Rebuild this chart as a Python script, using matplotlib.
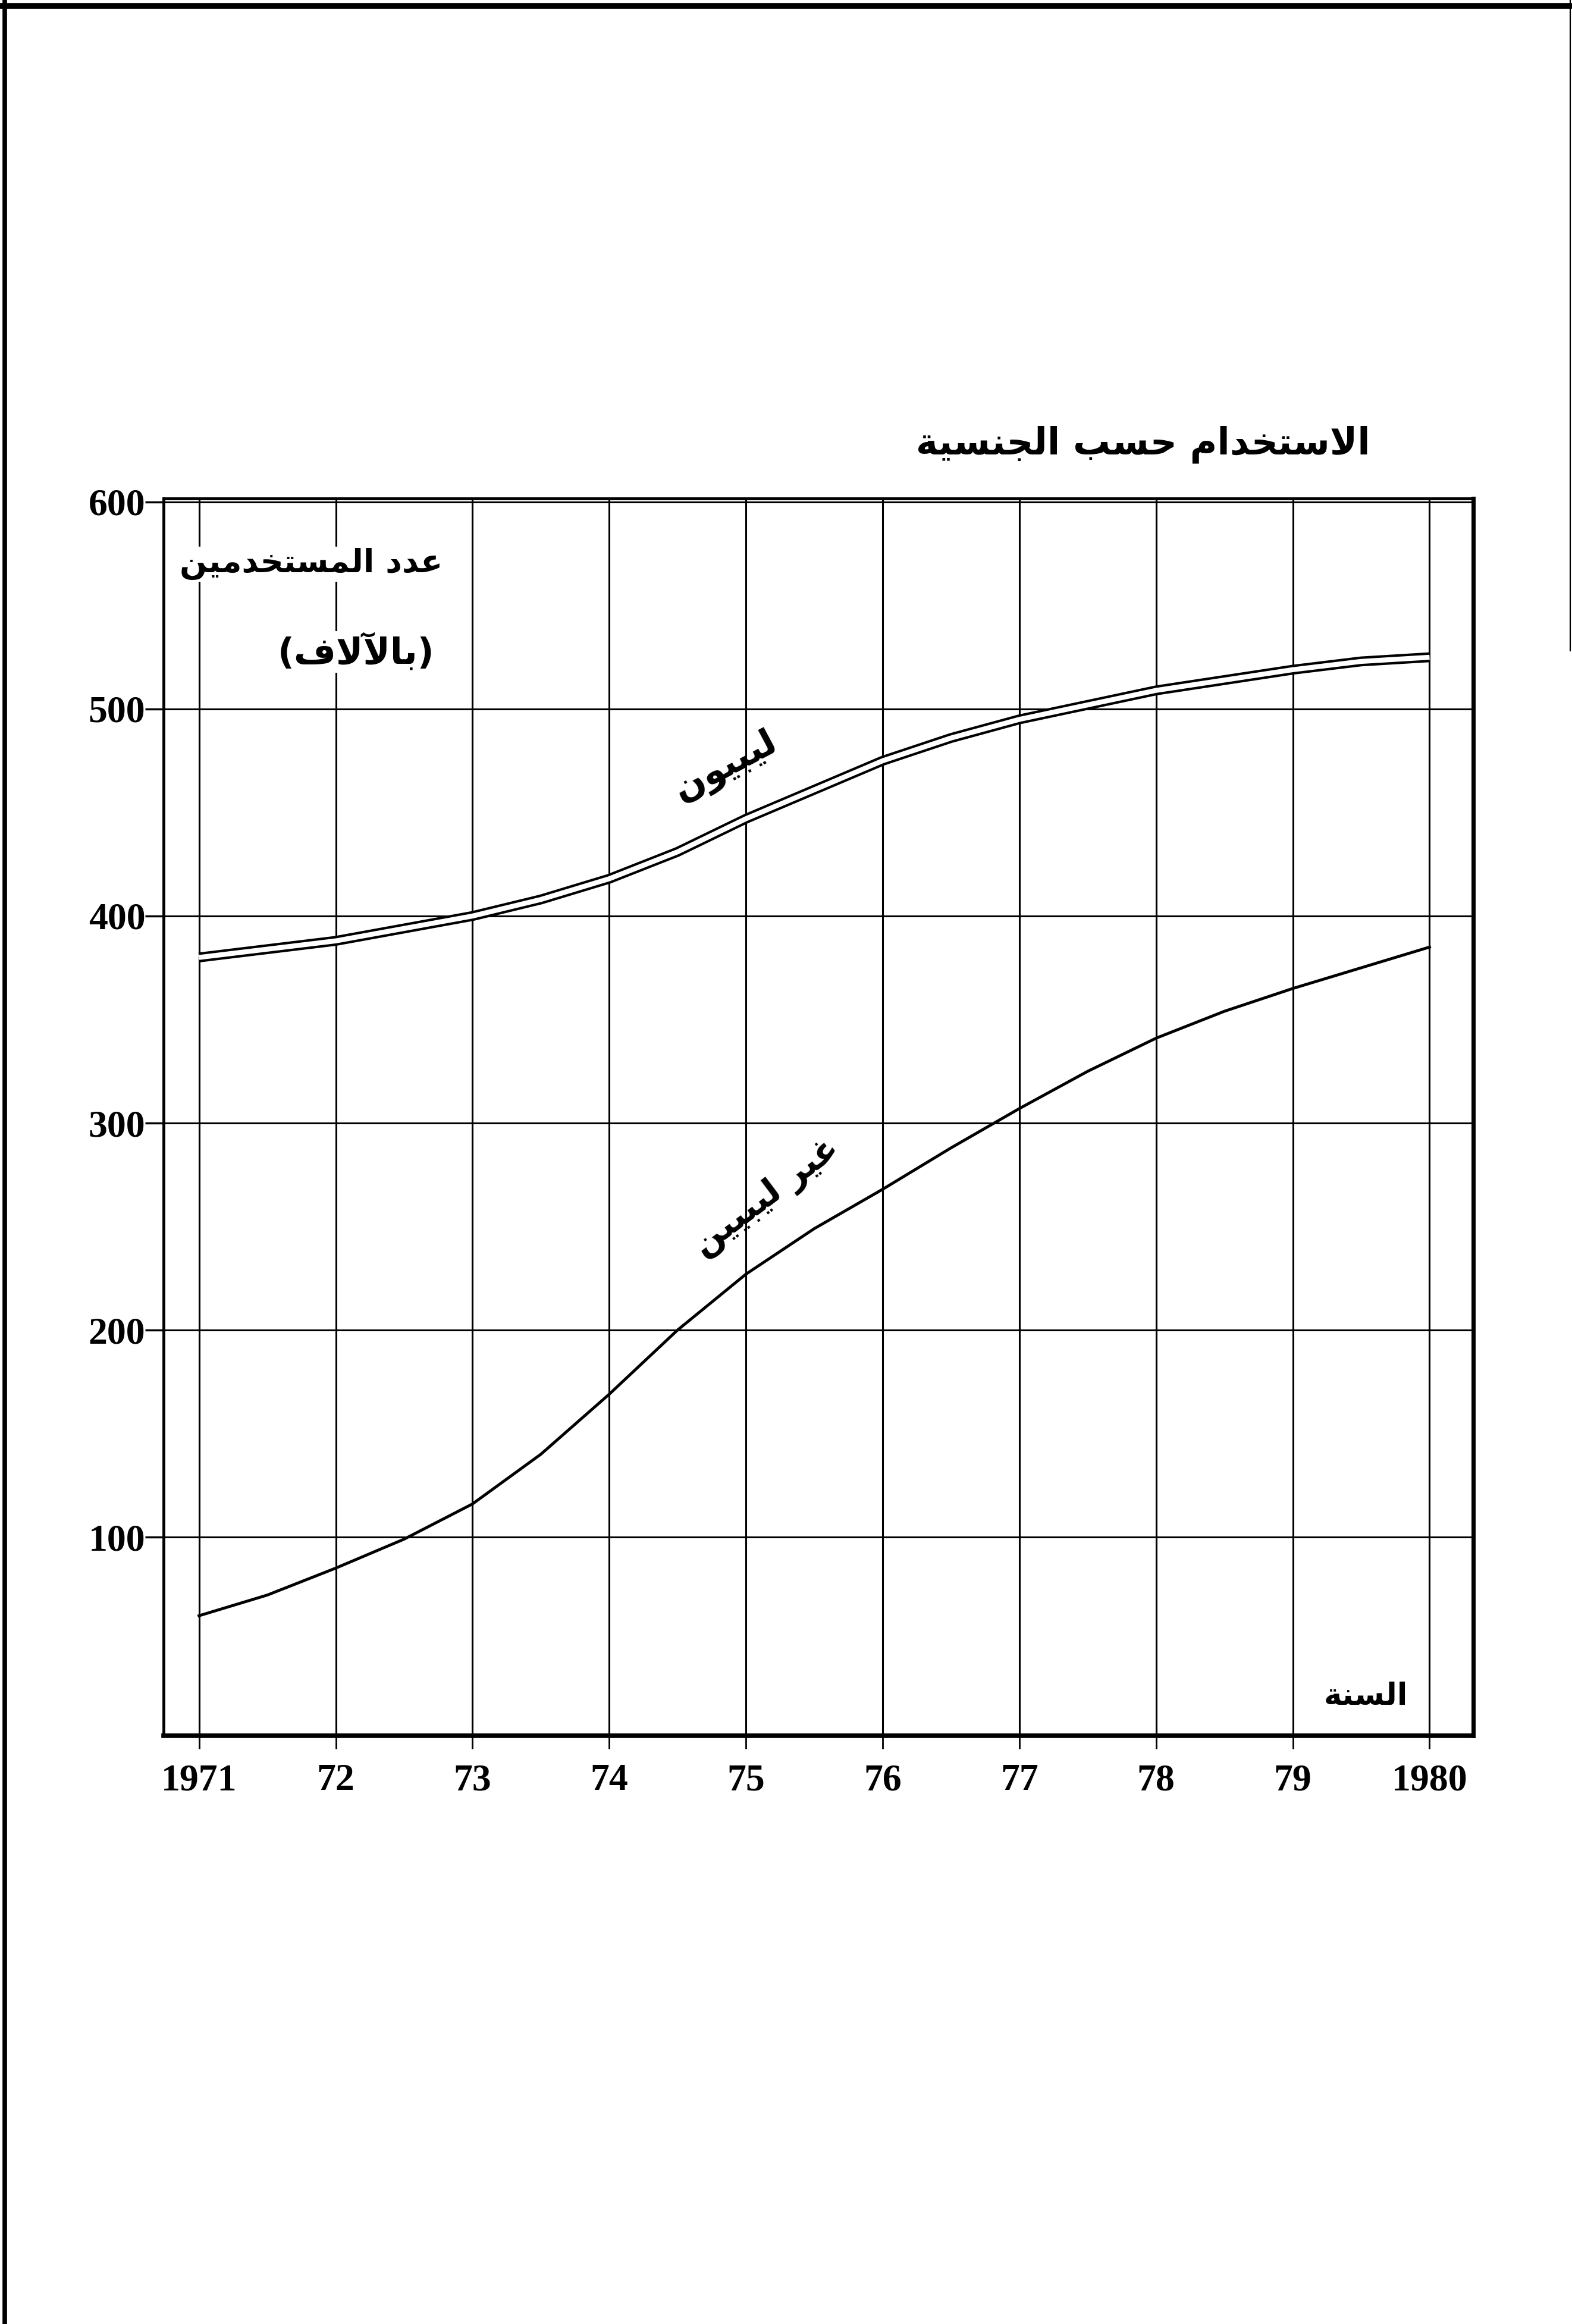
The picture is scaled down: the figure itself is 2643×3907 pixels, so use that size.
import matplotlib
matplotlib.use('Agg')
import matplotlib.pyplot as plt
import matplotlib.patheffects as pe
from matplotlib.lines import Line2D

# values (thousands of employed persons), every half year
years = [1971, 1971.5, 1972, 1972.5, 1973, 1973.5, 1974, 1974.5, 1975, 1975.5,
         1976, 1976.5, 1977, 1977.5, 1978, 1978.5, 1979, 1979.5, 1980]
libyans = [380, 384, 388, 394, 400, 408, 418, 431, 447, 461,
           475, 486, 495, 502, 509, 514, 519, 523, 525]
non_libyans = [62, 72, 85, 99, 116, 140, 169, 200, 227, 249,
               268, 288, 307, 325, 341, 354, 365, 375, 385]

xticks = [1971, 1972, 1973, 1974, 1975, 1976, 1977, 1978, 1979, 1980]
xlabels = ['1971', '72', '73', '74', '75', '76', '77', '78', '79', '1980']
yticks = [100, 200, 300, 400, 500, 600]
ylabels = ['100', '200', '300', '400', '500', '600']

title = 'الاستخدام حسب الجنسية'
ylab1 = 'عدد المستخدمين'
ylab2 = '(بالآلاف)'
xlab = 'السنة'
lab_libyans = 'ليبيون'
lab_non = 'غير ليبيين'

# matplotlib does no arabic shaping, so map letters to presentation forms
# (isolated, final, initial, medial) and reverse for display
FORMS = {
    'ا': ('\uFE8D', '\uFE8E', None, None),
    'آ': ('\uFE81', '\uFE82', None, None),
    'ب': ('\uFE8F', '\uFE90', '\uFE91', '\uFE92'),
    'ة': ('\uFE93', '\uFE94', None, None),
    'ت': ('\uFE95', '\uFE96', '\uFE97', '\uFE98'),
    'ج': ('\uFE9D', '\uFE9E', '\uFE9F', '\uFEA0'),
    'ح': ('\uFEA1', '\uFEA2', '\uFEA3', '\uFEA4'),
    'خ': ('\uFEA5', '\uFEA6', '\uFEA7', '\uFEA8'),
    'د': ('\uFEA9', '\uFEAA', None, None),
    'ر': ('\uFEAD', '\uFEAE', None, None),
    'س': ('\uFEB1', '\uFEB2', '\uFEB3', '\uFEB4'),
    'ع': ('\uFEC9', '\uFECA', '\uFECB', '\uFECC'),
    'غ': ('\uFECD', '\uFECE', '\uFECF', '\uFED0'),
    'ف': ('\uFED1', '\uFED2', '\uFED3', '\uFED4'),
    'ل': ('\uFEDD', '\uFEDE', '\uFEDF', '\uFEE0'),
    'م': ('\uFEE1', '\uFEE2', '\uFEE3', '\uFEE4'),
    'ن': ('\uFEE5', '\uFEE6', '\uFEE7', '\uFEE8'),
    'و': ('\uFEED', '\uFEEE', None, None),
    'ي': ('\uFEF1', '\uFEF2', '\uFEF3', '\uFEF4'),
}
LAM_ALEF = {'ا': ('\uFEFB', '\uFEFC'), 'آ': ('\uFEF5', '\uFEF6'), 'أ': ('\uFEF7', '\uFEF8')}
MIRROR = {'(': ')', ')': '('}


def joins_next(c):
    return c in FORMS and FORMS[c][2] is not None


def ar(text):
    out = []
    i = 0
    n = len(text)
    while i < n:
        c = text[i]
        prev = text[i - 1] if i > 0 else None
        nxt = text[i + 1] if i + 1 < n else None
        if c == 'ل' and nxt in LAM_ALEF:
            iso, fin = LAM_ALEF[nxt]
            out.append(fin if joins_next(prev) else iso)
            i += 2
            continue
        if c not in FORMS:
            out.append(MIRROR.get(c, c))
            i += 1
            continue
        iso, fin, ini, med = FORMS[c]
        p = joins_next(prev)
        q = ini is not None and nxt in FORMS
        if p and q:
            out.append(med)
        elif p:
            out.append(fin)
        elif q:
            out.append(ini)
        else:
            out.append(iso)
        i += 1
    return ''.join(reversed(out))


AR_FONT = ['DejaVu Sans']
NUM_FONT = 'Liberation Serif'

fig = plt.figure(figsize=(26.43, 39.07), dpi=100)
ax = fig.add_axes([0.1040, 0.2531, 0.8332, 0.5324])

ax.plot(years, libyans, color='white', lw=6, solid_capstyle='butt', zorder=3,
        path_effects=[pe.Stroke(linewidth=12, foreground='black', capstyle='butt'), pe.Normal()])
ax.plot(years, non_libyans, color='black', lw=3.5, zorder=3)

ax.set_xlim(1970.74, 1980.32)
ax.set_ylim(4, 601.7)
ax.set_xticks(xticks)
ax.set_xticklabels(xlabels, fontfamily=NUM_FONT, fontweight='bold', fontsize=46)
ax.set_yticks(yticks)
ax.set_yticklabels(ylabels, fontfamily=NUM_FONT, fontweight='bold', fontsize=46)
ax.tick_params(axis='x', direction='out', length=16, width=2, pad=18)
ax.tick_params(axis='y', direction='out', length=22, width=2.5, pad=0)
ax.grid(True, color='black', lw=2.2)
ax.set_axisbelow(True)

for side, w in [('left', 3.5), ('top', 3.5), ('bottom', 5.5), ('right', 5)]:
    ax.spines[side].set_linewidth(w)
    ax.spines[side].set_color('black')

# labels
fig.text(0.8715, 0.8047, ar(title), family=AR_FONT, fontweight='bold', fontsize=45,
         ha='right', va='baseline')
ax.text(1972.78, 566, ar(ylab1), family=AR_FONT, fontweight='bold', fontsize=39,
        ha='right', va='baseline', bbox=dict(facecolor='white', edgecolor='none', pad=2))
ax.text(1972.72, 522, ar(ylab2), family=AR_FONT, fontweight='bold', fontsize=44,
        ha='right', va='baseline', bbox=dict(facecolor='white', edgecolor='none', pad=2))
ax.text(1979.84, 19, ar(xlab), family=AR_FONT, fontweight='bold', fontsize=37,
        ha='right', va='baseline', bbox=dict(facecolor='white', edgecolor='none', pad=2))
ax.text(1974.85, 472, ar(lab_libyans), family=AR_FONT, fontweight='bold', fontsize=44,
        ha='center', va='center', rotation=28, rotation_mode='anchor')
ax.text(1975.15, 264, ar(lab_non), family=AR_FONT, fontweight='bold', fontsize=42,
        ha='center', va='center', rotation=37, rotation_mode='anchor')

# page frame of the scan
fig.add_artist(Line2D([0, 1], [0.9974, 0.9974], transform=fig.transFigure, color='black', lw=7))
fig.add_artist(Line2D([0.003, 0.003], [0, 1], transform=fig.transFigure, color='black', lw=5.5))
fig.add_artist(Line2D([0.9990, 0.9990], [0.72, 1], transform=fig.transFigure, color='black', lw=1.5))

fig.savefig('out.png', dpi=100, facecolor='white')
